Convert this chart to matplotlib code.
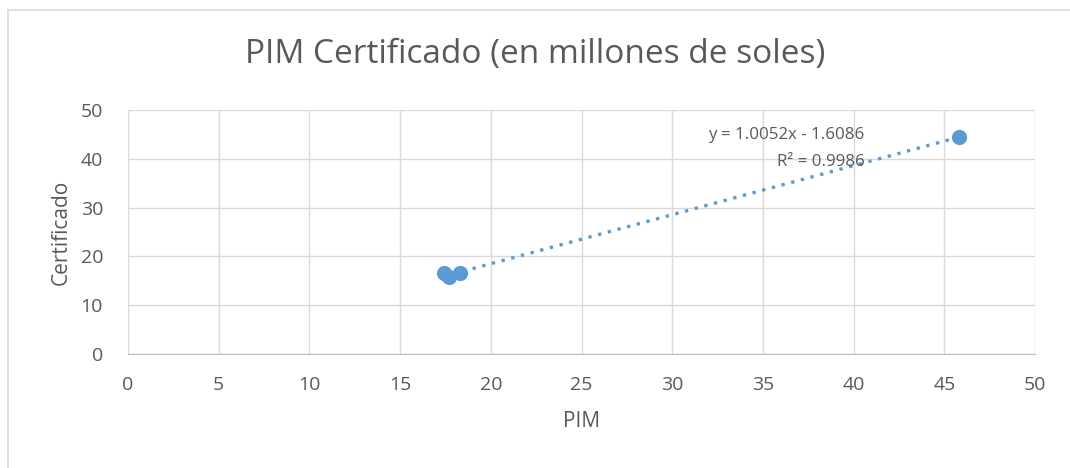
import matplotlib.pyplot as plt
from matplotlib.lines import Line2D

# data
pim = [17.4, 17.7, 18.3, 45.8]
certificado = [16.6, 15.7, 16.6, 44.5]
slope = 1.0052
intercept = -1.6086
r2 = 0.9986

blue = "#5B9BD5"
grey_text = "#595959"
grid_col = "#D9D9D9"

plt.rcParams['font.family'] = ['Open Sans', 'DejaVu Sans']

fig = plt.figure(figsize=(10.7, 4.68), dpi=100)
ax = fig.add_axes([128 / 1070, 1 - 354 / 468, (1035 - 128) / 1070, (354 - 110) / 468])

# chart border (only top and left edges are inside the image)
fig.add_artist(Line2D([8 / 1070, 1], [1 - 10 / 468, 1 - 10 / 468], color=grid_col, lw=1.2))
fig.add_artist(Line2D([8 / 1070, 8 / 1070], [0, 1 - 10 / 468], color=grid_col, lw=1.2))

ax.scatter(pim, certificado, s=120, color=blue, zorder=3, linewidths=0)

x0, x1 = min(pim), max(pim)
ax.plot([x0, x1], [slope * x0 + intercept, slope * x1 + intercept],
        linestyle=(0, (1, 2.0)), color=blue, lw=2.4, zorder=2)

ax.text(40.6, 42.1, "y = %.4fx - %.4f\nR² = %.4f" % (slope, -intercept, r2),
        ha="right", va="center", multialignment="right", fontsize=12.2,
        color=grey_text, linespacing=1.85, zorder=4)

ax.set_xlim(0, 50)
ax.set_ylim(0, 50)
ax.set_xticks(range(0, 51, 5))
ax.set_yticks(range(0, 51, 10))
ax.grid(True, color=grid_col, lw=1)
ax.set_axisbelow(True)
for s in ["top", "right", "left"]:
    ax.spines[s].set_visible(False)
ax.spines["bottom"].set_color("#BFBFBF")
ax.tick_params(length=0, labelsize=14, colors=grey_text)
ax.tick_params(axis="x", pad=16)
ax.tick_params(axis="y", pad=18)

ax.set_xlabel("PIM", fontsize=15, color=grey_text, labelpad=12)
ax.set_ylabel("Certificado", fontsize=15, color=grey_text, labelpad=6)
fig.text(0.5, 1 - 55 / 468, "PIM Certificado (en millones de soles)",
         ha="center", va="center", fontsize=24, color=grey_text)

fig.savefig("out.png", dpi=100, facecolor="white")
